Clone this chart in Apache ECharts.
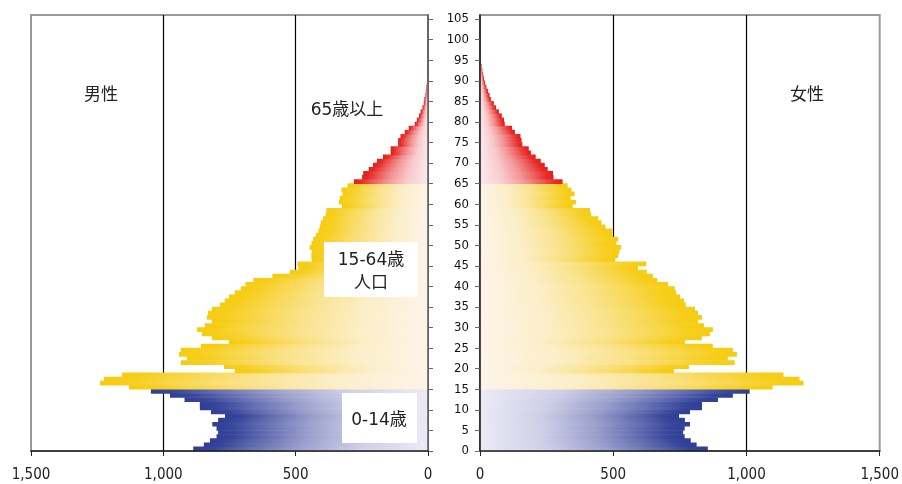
<!DOCTYPE html>
<html><head><meta charset="utf-8">
<script src="https://cdn.jsdelivr.net/npm/echarts@6/dist/echarts.min.js"></script>
<style>html,body{margin:0;padding:0;background:#fff}#c{width:902px;height:484px}</style>
</head><body><div id="c"></div>
<script>
// population by single year of age (thousands)
const maleYoung = [887, 847, 824, 799, 793, 799, 815, 793, 767, 820, 862, 862, 920, 975, 1047]; // ages 0-14
const maleWorking = [1130, 1239, 1224, 1156, 730, 771, 934, 911, 941, 934,
  858, 752, 817, 854, 873, 843, 817, 835, 831, 817,
  786, 768, 752, 730, 707, 690, 660, 588, 522, 490,
  493, 439, 441, 439, 447, 440, 434, 424, 414, 409,
  405, 397, 387, 384, 325, 337, 333, 323, 327, 304]; // ages 15-64
const maleOld = [280, 249, 245, 224, 208, 193, 170, 141, 141, 113,
  113, 104, 88, 73, 50, 42, 34, 28, 21, 16,
  14, 10, 8, 6, 4, 3, 2, 1, 1]; // ages 65-93
const femaleYoung = [855, 813, 791, 768, 762, 768, 788, 769, 747, 788, 833, 833, 893, 949, 1012];
const femaleWorking = [1098, 1214, 1199, 1139, 728, 784, 956, 930, 964, 949,
  874, 769, 833, 863, 874, 841, 818, 833, 818, 807,
  772, 766, 751, 736, 731, 706, 665, 649, 626, 593,
  624, 508, 519, 523, 530, 512, 519, 497, 497, 471,
  456, 444, 417, 413, 348, 361, 340, 355, 343, 329];
const femaleOld = [310, 276, 274, 254, 243, 228, 209, 191, 183, 159,
  156, 152, 131, 120, 93, 90, 82, 71, 60, 52,
  41, 36, 30, 24, 19, 15, 12, 9, 6, 4]; // ages 65-94
const ageTicks = [0,5,10,15,20,25,30,35,40,45,50,55,60,65,70,75,80,85,90,95,100,105];
const popTicks = [0, 500, 1000, 1500];

function toPairs(young, working, old) {
  const out = [];
  young.forEach((v, i) => out.push([v, i]));
  working.forEach((v, i) => out.push([v, 15 + i]));
  old.forEach((v, i) => out.push([v, 65 + i]));
  return out;
}
const maleData = toPairs(maleYoung, maleWorking, maleOld);
const femaleData = toPairs(femaleYoung, femaleWorking, femaleOld);

const palette = {
  blue: { full: [47, 63, 150], pale: [236, 234, 246] },
  yellow: { full: [246, 204, 18], pale: [253, 244, 233] },
  red: { full: [230, 32, 28], pale: [251, 233, 237] }
};
function mix(c, t) {
  const r = c.full.map((v, i) => Math.round(v + (c.pale[i] - v) * t));
  return 'rgb(' + r.join(',') + ')';
}
// fade profile: [fraction of bar from its outer end, fraction towards pale]
const fade = [[0, 0], [0.08, 0.04], [0.25, 0.3], [0.45, 0.58], [0.7, 0.84], [1, 1]];

function makeRender(left) {
  return function (params, api) {
    const v = api.value(0), age = api.value(1);
    if (!v) return;
    const a = api.coord([v, age + 1]);
    const b = api.coord([0, age]);
    const x = Math.min(a[0], b[0]), w = Math.abs(a[0] - b[0]);
    const y = Math.min(a[1], b[1]), h = Math.abs(a[1] - b[1]);
    const c = age < 15 ? palette.blue : (age < 65 ? palette.yellow : palette.red);
    let stops = fade.map(p => ({ offset: left ? p[0] : 1 - p[0], color: mix(c, p[1]) }));
    stops.sort((s, t) => s.offset - t.offset);
    return {
      type: 'rect',
      shape: { x: x, y: y - 0.3, width: w, height: h + 0.6 },
      style: { fill: new echarts.graphic.LinearGradient(0, 0, 1, 0, stops, false) }
    };
  };
}

const FONT = "'DejaVu Sans Condensed','DejaVu Sans',sans-serif";
const JP = "'DejaVu Sans','Noto Sans CJK JP','Noto Sans CJK SC',sans-serif";
const fmt = v => Number(v).toLocaleString('en-US');

function xAxes(grid, inverse) {
  return [
    { gridIndex: grid, type: 'value', min: 0, max: 1500, interval: 500, inverse: inverse, z: 10,
      axisLine: { show: true, lineStyle: { color: '#222', width: 1.5 } },
      axisTick: { show: true, length: 5, lineStyle: { color: '#222' }, customValues: popTicks },
      axisLabel: { margin: 17, fontSize: 15, color: '#222', fontFamily: FONT, formatter: fmt, customValues: popTicks },
      splitLine: { show: false } },
    { gridIndex: grid, type: 'value', min: 0, max: 1500, interval: 500, inverse: inverse, z: 0,
      axisLine: { show: false }, axisTick: { show: false }, axisLabel: { show: false },
      splitLine: { show: true, showMinLine: false, showMaxLine: false, lineStyle: { color: '#000', width: 1.2 } } }
  ];
}

function label(text, x, y) {
  return { type: 'text', x: x, y: y, z: 100,
    style: { text: text, font: '17px ' + JP, fill: '#222', align: 'center', verticalAlign: 'middle' } };
}

const chart = echarts.init(document.getElementById('c'), null, { renderer: 'canvas' });
chart.setOption({
  animation: false,
  grid: [
    { left: 31, top: 15, width: 397, height: 436, show: true, borderColor: '#999', borderWidth: 2, backgroundColor: 'transparent' },
    { left: 480, top: 15, width: 402, height: 436, show: true, borderColor: '#999', borderWidth: 2, backgroundColor: 'transparent' }
  ],
  xAxis: [...xAxes(0, true), ...xAxes(1, false)],
  yAxis: [
    { gridIndex: 0, type: 'value', min: 0, max: 106, position: 'right', z: 10,
      axisLine: { show: true, lineStyle: { color: '#555', width: 1.5 } },
      axisTick: { show: true, length: 5, lineStyle: { color: '#666' }, customValues: ageTicks },
      axisLabel: { show: false }, splitLine: { show: false } },
    { gridIndex: 1, type: 'value', min: 0, max: 106, position: 'left', z: 10,
      axisLine: { show: true, lineStyle: { color: '#111', width: 1.5 } },
      axisTick: { show: true, length: 5, lineStyle: { color: '#666' }, customValues: ageTicks },
      axisLabel: { margin: 11, fontSize: 13, color: '#111', fontFamily: FONT, customValues: ageTicks },
      splitLine: { show: false } }
  ],
  series: [
    { type: 'custom', xAxisIndex: 0, yAxisIndex: 0, renderItem: makeRender(true), data: maleData, encode: { x: 0, y: 1 }, z: 2, silent: true },
    { type: 'custom', xAxisIndex: 2, yAxisIndex: 1, renderItem: makeRender(false), data: femaleData, encode: { x: 0, y: 1 }, z: 2, silent: true }
  ],
  graphic: [
    label('男性', 101, 96),
    label('65歳以上', 347, 111),
    { type: 'rect', z: 99, shape: { x: 324, y: 242, width: 94, height: 55 }, style: { fill: '#fff' } },
    label('15-64歳', 371, 261),
    label('人口', 371, 284),
    { type: 'rect', z: 99, shape: { x: 342, y: 393, width: 75, height: 50 }, style: { fill: '#fff' } },
    label('0-14歳', 379, 421),
    label('女性', 807, 96)
  ]
});
</script></body></html>
